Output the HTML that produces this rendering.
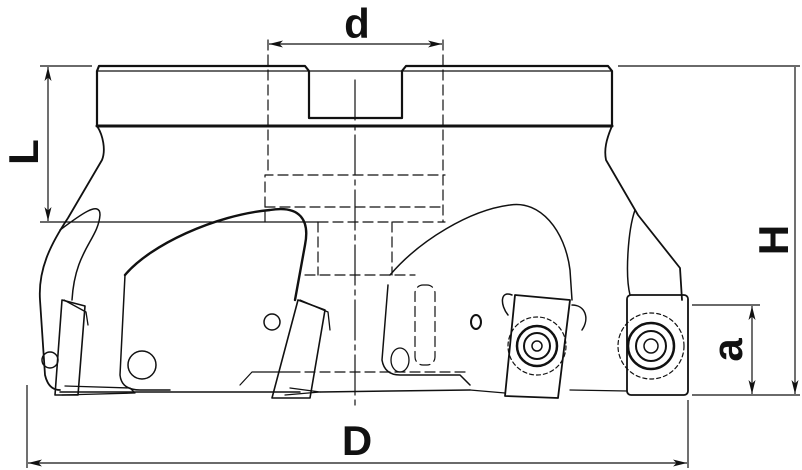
<!DOCTYPE html>
<html><head><style>
html,body{margin:0;padding:0;background:#fff;}
svg{display:block;}
text{font-family:"Liberation Sans",sans-serif;font-weight:bold;fill:#111;}
</style></head><body>
<svg width="802" height="470" viewBox="0 0 802 470" xmlns="http://www.w3.org/2000/svg">
<defs>
<marker id="ar" viewBox="0 0 12 6" refX="12" refY="3" markerWidth="16" markerHeight="7" orient="auto-start-reverse" markerUnits="userSpaceOnUse">
<path d="M0,0 L12,3 L0,6 L3,3 Z" fill="#111"/></marker>
</defs>
<g fill="none" stroke="#111" stroke-linecap="round" stroke-linejoin="round">
<path d="M99,66 L305,66 L309,71 L309,118 L402,118 L402,71 L406,66 L608,66 L612,71 L612,126 L97,126 L97,71 Z" stroke-width="2.2"/>
<line x1="97" y1="71" x2="612" y2="71" stroke-width="1.2"/>
<line x1="97" y1="126" x2="612" y2="126" stroke-width="3"/>
<path d="M97,126 C103,135 106,150 102,160 L68,218 C50,245 38,270 40,300 L45,375 C48,388 55,390 60,390" stroke-width="1.8"/>
<path d="M612,126 C606,140 604,150 606,160 L638,215 L680,268 L682,300" stroke-width="1.8"/>
<g stroke-width="1.2" stroke-dasharray="10,5">
<line x1="268" y1="40" x2="268" y2="175"/>
<line x1="443" y1="40" x2="443" y2="222"/>
<path d="M265,222 L265,175 L445,175"/>
<line x1="265" y1="207" x2="445" y2="207"/>
<line x1="318" y1="222" x2="318" y2="275"/>
<line x1="392" y1="222" x2="392" y2="275"/>
<line x1="305" y1="275" x2="415" y2="275"/>
<line x1="318" y1="222" x2="445" y2="222"/>
<line x1="305" y1="372" x2="470" y2="372"/>
</g>
<line x1="355" y1="80" x2="355" y2="410" stroke-width="1.2" stroke-dasharray="40,5,5,5"/>
<path d="M60,230 C80,215 100,200 100,215 C98,240 75,250 72,300" stroke-width="1.5"/>
<path d="M125,275 C150,245 215,215 270,210 C300,205 310,220 305,245 L295,300" stroke-width="2.4"/>
<path d="M125,275 L120,375 C121,385 128,390 140,390 L170,390" stroke-width="1.5"/>
<circle cx="142" cy="365" r="14" stroke-width="1.5"/>
<circle cx="272" cy="322" r="8" stroke-width="1.5"/>
<circle cx="50" cy="360" r="8" stroke-width="1.5"/>
<path d="M62,300 L85,306 L78,395 L55,395 Z" stroke-width="1.6"/>
<path d="M64,300 L86,312 L88,325" stroke-width="1.3"/>
<path d="M62,395 L135,393 L130,388 L65,386" stroke-width="1.3"/>
<path d="M298,300 L325,310 L310,398 L272,398 Z" stroke-width="1.6"/>
<path d="M300,300 L328,312 L330,330" stroke-width="1.3"/>
<path d="M285,395 L320,392 L290,388" stroke-width="1.3"/>
<path d="M240,385 L252,372 L300,372" stroke-width="1.2"/>
<path d="M390,275 C420,240 470,210 510,205 C540,200 565,230 570,270 L572,300" stroke-width="1.5"/>
<path d="M388,285 L382,360 C384,372 392,375 400,375 L460,375 L470,385" stroke-width="1.5"/>
<rect x="415" y="285" width="20" height="80" rx="8" stroke-width="1.2" stroke-dasharray="10,5"/>
<ellipse cx="400" cy="360" rx="9" ry="12" stroke-width="1.3"/>
<ellipse cx="476" cy="322" rx="5" ry="7" stroke-width="2"/>
<path d="M630,295 C625,275 628,230 635,210" stroke-width="1.5"/>
<path d="M515,295 L570,300 L558,398 L505,396 Z" stroke-width="1.8"/>
<path d="M512,295 C500,290 500,305 508,315" stroke-width="1.5"/>
<path d="M572,305 C585,305 590,318 582,330" stroke-width="1.5"/>
<circle cx="537" cy="346" r="20" stroke-width="2.5"/>
<circle cx="537" cy="346" r="13" stroke-width="2"/>
<circle cx="537" cy="346" r="5" stroke-width="1.5"/>
<circle cx="537" cy="346" r="29" stroke-width="1.2" stroke-dasharray="4,3"/>
<rect x="627" y="295" width="61" height="100" rx="4" stroke-width="1.8"/>
<circle cx="651" cy="346" r="23" stroke-width="2.5"/>
<circle cx="651" cy="346" r="15" stroke-width="2"/>
<circle cx="651" cy="346" r="7" stroke-width="1.5"/>
<circle cx="651" cy="346" r="33" stroke-width="1.2" stroke-dasharray="4,3"/>
<path d="M470,390 L505,393 M570,390 L627,391" stroke-width="1.3"/>
<path d="M60,392 L300,392 M320,392 L470,390" stroke-width="1.5"/>
</g>
<g stroke="#111" stroke-width="1.2" fill="none">
<line x1="269" y1="44" x2="442" y2="44" marker-start="url(#ar)" marker-end="url(#ar)"/>
<line x1="40" y1="66" x2="92" y2="66"/>
<line x1="40" y1="222" x2="318" y2="222"/>
<line x1="48" y1="67" x2="48" y2="221" marker-start="url(#ar)" marker-end="url(#ar)"/>
<line x1="618" y1="66" x2="800" y2="66"/>
<line x1="692" y1="395" x2="800" y2="395"/>
<line x1="692" y1="305" x2="760" y2="305"/>
<line x1="795" y1="67" x2="795" y2="394" marker-end="url(#ar)"/>
<line x1="752" y1="306" x2="752" y2="394" marker-start="url(#ar)" marker-end="url(#ar)"/>
<line x1="27" y1="385" x2="27" y2="468"/>
<line x1="688" y1="400" x2="688" y2="468"/>
<line x1="28" y1="463" x2="687" y2="463" marker-start="url(#ar)" marker-end="url(#ar)"/>
</g>
<text x="357" y="38" font-size="42" text-anchor="middle">d</text>
<text x="357" y="455" font-size="42" text-anchor="middle">D</text>
<text transform="translate(38,152) rotate(-90)" font-size="42" text-anchor="middle">L</text>
<text transform="translate(788,240) rotate(-90)" font-size="42" text-anchor="middle">H</text>
<text transform="translate(742,350) rotate(-90)" font-size="42" text-anchor="middle">a</text>
</svg>
</body></html>
